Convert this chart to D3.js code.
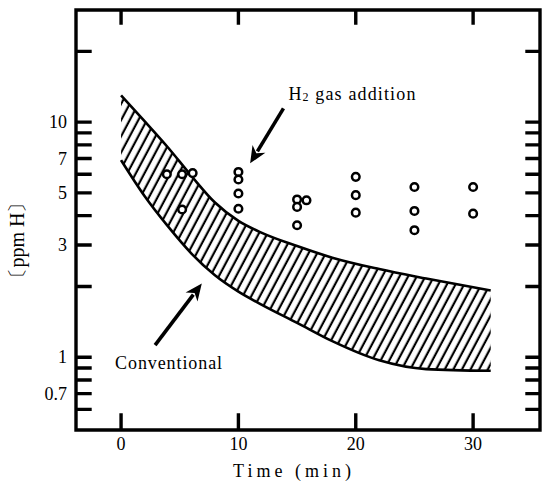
<!DOCTYPE html>
<html>
<head>
<meta charset="utf-8">
<script src="https://cdn.jsdelivr.net/npm/d3@7"></script>
<style>
  html, body { margin: 0; padding: 0; background: #fff; }
  svg { display: block; }
  text { font-family: "Liberation Serif", "DejaVu Serif", serif; fill: #000; }
</style>
</head>
<body>
<svg id="chart" width="543" height="488"></svg>
<script>
// Conventional process: scatter band of hydrogen content over time
const bandTime  = [0, 2, 4, 6, 8, 10, 12, 15, 18, 22, 26, 31.5];
const bandUpper = [13.0, 10.1, 7.8, 5.9, 4.55, 3.8, 3.38, 2.97, 2.65, 2.37, 2.16, 1.92];
const bandLower = [6.89, 4.85, 3.6, 2.76, 2.23, 1.9, 1.67, 1.4, 1.17, 0.97, 0.89, 0.875];

// H2 gas addition: individual measurements
const h2Time = [3.9, 5.2, 6.1, 5.2, 10, 10, 10, 10, 15, 15, 15.8, 15, 20, 20, 20, 25, 25, 25, 30, 30];
const h2Ppm  = [6.0, 6.0, 6.07, 4.25, 6.14, 5.7, 4.97, 4.28, 4.69, 4.36, 4.65, 3.64, 5.85, 4.89, 4.12, 5.3, 4.19, 3.47, 5.3, 4.08];

// Axis ticks
const xTicks = [0, 10, 20, 30];
const yTicks = [0.6, 0.7, 0.8, 0.9, 1, 2, 3, 4, 5, 6, 7, 8, 9, 10, 20];
const yTickLabels = [0.7, 1, 3, 5, 7, 10];

const svg = d3.select("#chart");
const plotLeft = 76, plotRight = 540, plotTop = 10, plotBottom = 430;
const lw = 3.4; // frame and tick thickness

const x = d3.scaleLinear().domain([-3.84, 35.7]).range([plotLeft, plotRight]);
const y = d3.scaleLog().domain([0.49, 30]).range([plotBottom, plotTop]);

// Hatch pattern for the conventional band
const defs = svg.append("defs");
defs.append("pattern")
  .attr("id", "hatch")
  .attr("patternUnits", "userSpaceOnUse")
  .attr("width", 7.6).attr("height", 20)
  .attr("patternTransform", "rotate(28)")
  .append("rect")
  .attr("x", 2.6).attr("y", -2).attr("width", 2.2).attr("height", 24)
  .attr("fill", "#000");

const bandData = bandTime.map((t, i) => ({ t, hi: bandUpper[i], lo: bandLower[i] }));

svg.append("path")
  .datum(bandData)
  .attr("fill", "url(#hatch)")
  .attr("d", d3.area().x(d => x(d.t)).y0(d => y(d.lo)).y1(d => y(d.hi)).curve(d3.curveMonotoneX));

const edge = key => d3.line().x(d => x(d.t)).y(d => y(d[key])).curve(d3.curveMonotoneX);
svg.append("path").datum(bandData).attr("fill", "none").attr("stroke", "#000")
  .attr("stroke-width", 2.6).attr("d", edge("hi"));
svg.append("path").datum(bandData).attr("fill", "none").attr("stroke", "#000")
  .attr("stroke-width", 2.6).attr("d", edge("lo"));

// Measurement circles
svg.append("g").selectAll("circle")
  .data(h2Time.map((t, i) => ({ t, v: h2Ppm[i] })))
  .join("circle")
  .attr("cx", d => x(d.t)).attr("cy", d => y(d.v)).attr("r", 3.8)
  .attr("fill", "#fff").attr("stroke", "#000").attr("stroke-width", 2.5);

// Frame and inward ticks, drawn through the scales as one outline path
const outline = d3.path();
outline.rect(x.range()[0], y.range()[1], x.range()[1] - x.range()[0], y.range()[0] - y.range()[1]);
yTicks.forEach(v => {
  outline.moveTo(x.range()[0], y(v)); outline.lineTo(x.range()[0] + 14, y(v));
  outline.moveTo(x.range()[1], y(v)); outline.lineTo(x.range()[1] - 13, y(v));
});
xTicks.forEach(t => {
  outline.moveTo(x(t), y.range()[0]); outline.lineTo(x(t), y.range()[0] - 15);
  outline.moveTo(x(t), y.range()[1]); outline.lineTo(x(t), y.range()[1] + 13);
});
svg.append("path")
  .attr("class", "frame")
  .attr("d", outline.toString())
  .style("fill", "none")
  .style("stroke", "#000")
  .style("stroke-width", lw + "px")
  .style("stroke-linecap", "square");

// Tick labels
svg.append("g").selectAll("text").data(yTickLabels).join("text")
  .attr("x", plotLeft - 9).attr("y", d => y(d)).attr("dy", "0.35em")
  .attr("text-anchor", "end").attr("font-size", 18)
  .text(d => String(d));
svg.append("g").selectAll("text").data(xTicks).join("text")
  .attr("x", d => x(d)).attr("y", plotBottom + 20)
  .attr("text-anchor", "middle").attr("font-size", 18)
  .text(d => String(d));

// Annotation arrows (data coordinates)
const arrows = [
  { from: [13.84, 11.45], to: [11.0, 6.68] },
  { from: [2.9, 1.126], to: [6.88, 2.06] }
];
arrows.forEach(a => {
  const x0 = x(a.from[0]), y0 = y(a.from[1]), x1 = x(a.to[0]), y1 = y(a.to[1]);
  const len = Math.hypot(x1 - x0, y1 - y0), ux = (x1 - x0) / len, uy = (y1 - y0) / len;
  const hl = 17, hw = 7.5;
  const bx = x1 - ux * hl, by = y1 - uy * hl;
  svg.append("line")
    .attr("x1", x0).attr("y1", y0).attr("x2", bx + ux * 3).attr("y2", by + uy * 3)
    .attr("stroke", "#000").attr("stroke-width", 3.6);
  svg.append("path")
    .attr("d", `M${x1},${y1}L${bx - uy * hw},${by + ux * hw}L${x1 - ux * hl * 0.7},${y1 - uy * hl * 0.7}L${bx + uy * hw},${by - ux * hw}Z`)
    .attr("fill", "#000");
});

// Annotation text
const h2 = svg.append("text")
  .attr("x", x(14.26)).attr("y", y(12.4))
  .attr("font-size", 18).attr("textLength", 127).attr("lengthAdjust", "spacing");
h2.append("tspan").text("H");
h2.append("tspan").attr("font-size", 12).attr("dy", 1).text("2");
h2.append("tspan").attr("dy", -1).text(" gas addition");

svg.append("text")
  .attr("x", x(-0.51)).attr("y", y(0.89))
  .attr("font-size", 18).attr("textLength", 107).attr("lengthAdjust", "spacing")
  .text("Conventional");

// Axis titles
svg.append("text")
  .attr("x", 292).attr("y", 477).attr("text-anchor", "middle")
  .attr("font-size", 18).attr("textLength", 118).attr("lengthAdjust", "spacing")
  .text("Time (min)");

svg.append("text")
  .attr("transform", "translate(24,240) rotate(-90)")
  .attr("text-anchor", "middle")
  .attr("font-size", 20)
  .text("〔ppm H〕");
</script>
</body>
</html>
